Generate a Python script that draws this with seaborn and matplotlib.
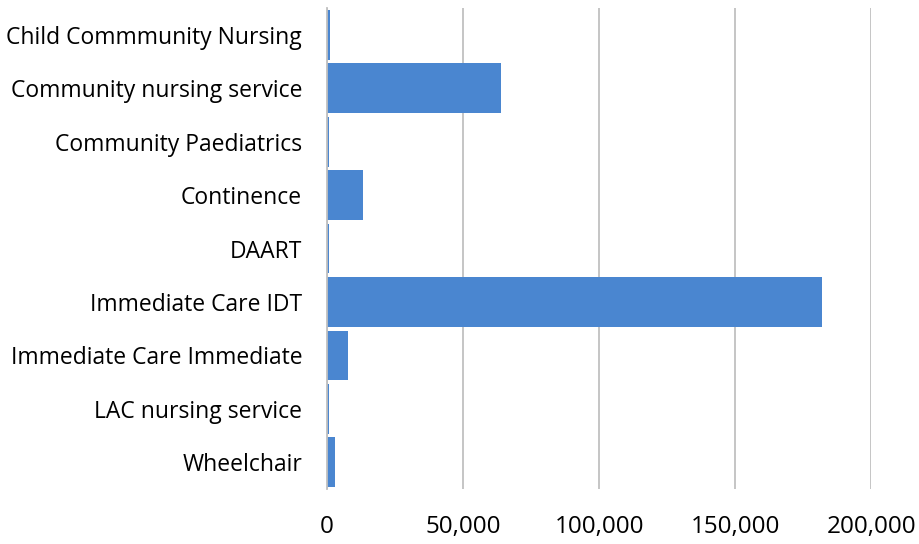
import matplotlib
matplotlib.use("Agg")
import matplotlib.pyplot as plt
import seaborn as sns
import pandas as pd
from matplotlib.ticker import FuncFormatter

categories = ["Child Commmunity Nursing", "Community nursing service", "Community Paediatrics",
              "Continence", "DAART", "Immediate Care IDT", "Immediate Care Immediate",
              "LAC nursing service", "Wheelchair"]
values = [900, 64000, 700, 13000, 600, 181800, 7600, 500, 2800]
xticks = [0, 50000, 100000, 150000, 200000]

sns.set_theme(style="white")
plt.rcParams['font.family'] = ['Open Sans', 'DejaVu Sans']

df = pd.DataFrame({"cat": categories, "val": values})
fig = plt.figure(figsize=(9.19, 5.44), dpi=100)
ax = fig.add_axes([0.356, 0.101, 0.592, 0.884])
sns.barplot(data=df, x="val", y="cat", orient="h", color="#4a86d0", saturation=1,
            width=0.93, ax=ax, edgecolor="none")
ax.set_xlim(0, 200000)
ax.set_xticks(xticks)
ax.xaxis.set_major_formatter(FuncFormatter(lambda v, p: f"{int(v):,}"))
ax.grid(axis="x", color="#c0c0c0", linewidth=1.3)
ax.set_axisbelow(True)
for s in ["top", "right", "bottom"]:
    ax.spines[s].set_visible(False)
ax.spines["left"].set_color("#c0c0c0")
ax.spines["left"].set_linewidth(1.3)
ax.set_xlabel("")
ax.set_ylabel("")
ax.tick_params(axis="x", length=0, pad=19, labelsize=17.5, labelcolor="#000000")
ax.tick_params(axis="y", length=0, pad=18, labelsize=16.5, labelcolor="#000000")
fig.savefig("out.png", dpi=100)
